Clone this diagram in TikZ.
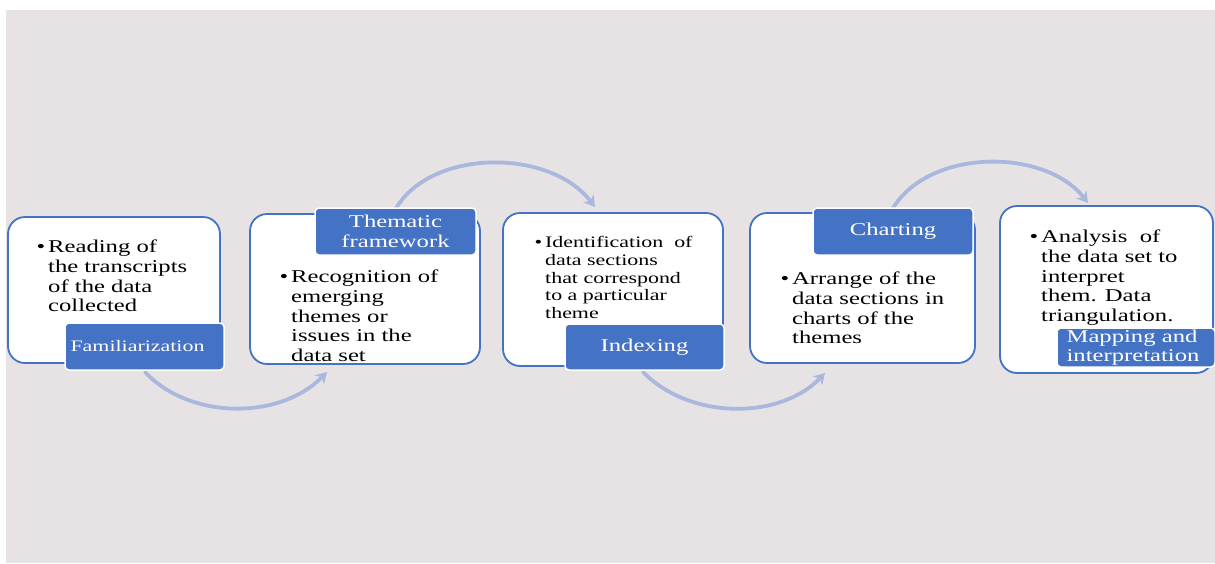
\documentclass[tikz,border=0pt]{standalone}
\usepackage{fontspec}
\setmainfont[FakeStretch=1.37]{Liberation Serif}
\usetikzlibrary{arrows.meta}
\definecolor{bgc}{HTML}{E7E3E4}
\definecolor{blu}{HTML}{4472C4}
\definecolor{arcc}{HTML}{A9B8DC}
\tikzset{
  card/.style={draw=blu, line width=1.8pt, fill=white, rounded corners=17pt, inner sep=0pt},
  tag/.style={draw=white, line width=1.5pt, fill=blu, rounded corners=4pt, text=white, inner sep=0pt, align=center, font=\fontsize{18}{20}\selectfont},
  body/.style={anchor=north west, inner sep=0pt, align=left, font=\fontsize{18}{19.6}\selectfont},
  flow/.style={draw=arcc, line width=3.8pt, line cap=round, -{Stealth[length=11pt,width=13pt]}}
}
\newcommand{\bul}{\llap{\textbullet\hspace{3pt}}}
\begin{document}
\begin{tikzpicture}[x=1pt,y=-1pt]
\useasboundingbox (0,0) rectangle (1215,563);
\fill[white] (0,0) rectangle (1215,563);
\fill[bgc] (6,10) rectangle (1215,563);
% coordinates for connectors
\coordinate (a1s) at (145,372);
\coordinate (a1e) at (327,372);
\coordinate (a2s) at (395,210);
\coordinate (a2e) at (595,207);
\coordinate (a3s) at (643,372);
\coordinate (a3e) at (825,373);
\coordinate (a4s) at (893,208);
\coordinate (a4e) at (1088,203);
\draw[flow] (a1s) .. controls (190,420) and (280,420) .. (a1e);
\draw[flow] (a2s) .. controls (430,148) and (550,148) .. (a2e);
\draw[flow] (a3s) .. controls (690,420) and (780,420) .. (a3e);
\draw[flow] (a4s) .. controls (930,148) and (1045,148) .. (a4e);
% cards
\node[card, minimum width=212pt, minimum height=146pt] (b1) at (114,290) {};
\node[card, minimum width=230pt, minimum height=150pt] (b2) at (365,289) {};
\node[card, minimum width=220pt, minimum height=153pt] (b3) at (613,289.5) {};
\node[card, minimum width=225pt, minimum height=150pt] (b4) at (862.5,288) {};
\node[card, minimum width=213pt, minimum height=167pt] (b5) at (1106.5,289.5) {};
% body texts
\node[body] (t1) at (48,240) {\bul Reading of\\the transcripts\\of the data\\collected};
\node[body] (t2) at (291,270) {\bul Recognition of\\emerging\\themes or\\issues in the\\data set};
\node[body, font=\fontsize{16}{17.8}\selectfont] (t3) at (545,236) {\bul Identification\ \ of\\data sections\\that correspond\\to a particular\\theme};
\node[body] (t4) at (792,272) {\bul Arrange of the\\data sections in\\charts of the\\themes};
\node[body] (t5) at (1041,230) {\bul Analysis\ \ of\\the data set to\\interpret\\them. Data\\triangulation.};
% tags
\node[tag, minimum width=159pt, minimum height=47pt, font=\fontsize{16}{18}\selectfont] (l1) at (144.5,346.5) {\hspace{-14pt}Familiarization};
\node[tag, minimum width=161pt, minimum height=47pt] (l2) at (395.5,231.5) {Thematic\\framework};
\node[tag, minimum width=159pt, minimum height=46pt] (l3) at (644.5,347) {Indexing};
\node[tag, minimum width=160pt, minimum height=47pt] (l4) at (893,231.5) {Charting};
\node[tag, minimum width=158pt, minimum height=39pt, align=left, font=\fontsize{18}{18.5}\selectfont] (l5) at (1136,347.5) {\hspace{-6pt}Mapping and\\\hspace{-6pt}interpretation};
\end{tikzpicture}
\end{document}
